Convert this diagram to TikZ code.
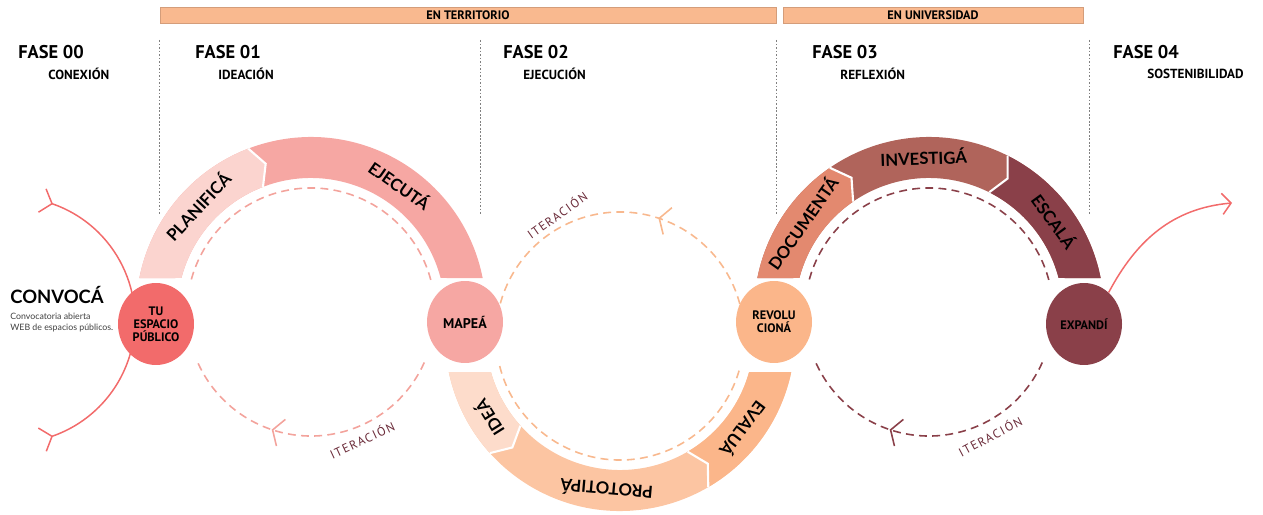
\documentclass[tikz,border=0pt]{standalone}
\usepackage{fontspec}
\setmainfont{PT Sans}
\newfontfamily\labelfont{Lato}
\usepackage{tikz}
\usetikzlibrary{arrows.meta,shapes.geometric,decorations.markings}

\definecolor{rojo}{HTML}{F26B6B}
\definecolor{planifica}{HTML}{FBD4CF}
\definecolor{ejecuta}{HTML}{F6A7A3}
\definecolor{idea}{HTML}{FDDCCB}
\definecolor{prototipa}{HTML}{FCC5A2}
\definecolor{evalua}{HTML}{FBB68A}
\definecolor{documenta}{HTML}{E3896F}
\definecolor{investiga}{HTML}{B0645B}
\definecolor{escala}{HTML}{8A4049}
\definecolor{barra}{HTML}{F9B98F}
\definecolor{granate}{HTML}{6A2A38}
\definecolor{salmon}{HTML}{F3A39C}
\definecolor{naranja}{HTML}{F8B88E}

\begin{document}
\begin{tikzpicture}[x=0.02cm, y=0.02cm,
    fase/.style={anchor=west, inner sep=0pt, font=\bfseries\fontsize{10.5}{12}\selectfont},
    sub/.style={anchor=west, inner sep=0pt, font=\bfseries\fontsize{7.5}{9}\selectfont},
    bar/.style={fill=barra, draw=barra!85!black, line width=0.3pt, minimum height=0.32cm, inner sep=0pt, font=\bfseries\fontsize{7}{8}\selectfont},
    sep/.style={gray, line width=0.4pt, dash pattern=on 1pt off 1pt},
    ringtext/.style={font=\labelfont\bfseries\fontsize{9.5}{10}\selectfont},
    stepnode/.style={ellipse, minimum width=1.52cm, minimum height=1.64cm, inner sep=0pt, align=center, font=\bfseries\fontsize{7}{7.5}\selectfont},
    iter/.style={line width=0.9pt, dash pattern=on 4.5pt off 3pt},
    itermark/.style={postaction={decorate, decoration={markings, mark=at position #1 with {\arrow{Straight Barb[length=5pt,width=16pt]}}}}},
    itertext/.style={text=granate, font=\fontsize{7}{8}\selectfont\addfontfeatures{LetterSpace=12}}
  ]
\useasboundingbox (0,0) rectangle (1263,514);

% barras superiores
\node[bar, minimum width=12.32cm] (territorio) at (468,499) {EN TERRITORIO};
\node[bar, minimum width=6cm] (universidad) at (933,499) {EN UNIVERSIDAD};

% separadores
\foreach \x in {159,480,776,1089}
  \draw[sep] (\x,474) -- (\x,299);

% fases
\node[fase] (fase0) at (18,462) {FASE 00};
\node[sub] (conexion) at (48,440) {CONEXIÓN};
\node[fase] (fase1) at (195,462) {FASE 01};
\node[sub] (ideacion) at (218,440) {IDEACIÓN};
\node[fase] (fase2) at (503,462) {FASE 02};
\node[sub] (ejecucion) at (523,440) {EJECUCIÓN};
\node[fase] (fase3) at (812,462) {FASE 03};
\node[sub] (reflexion) at (840,440) {REFLEXIÓN};
\node[fase] (fase4) at (1113,462) {FASE 04};
\node[sub] (sostenibilidad) at (1147,440) {SOSTENIBILIDAD};

% convoca
\node[anchor=west, inner sep=0pt, font=\labelfont\bfseries\fontsize{10.5}{12}\selectfont] (convoca) at (10,219) {CONVOCÁ};
\node[anchor=north west, inner sep=0pt, align=left, text=black!75, font=\labelfont\fontsize{5}{6}\selectfont] (convocatoria) at (10,201) {Convocatoria abierta\\WEB de espacios públicos.};

\begin{scope}[shift={(12,194)}]
  \draw[rojo, line width=0.85pt] (71:123) arc[start angle=71, end angle=-71, radius=123];
  \draw[rojo, line width=0.85pt] (71:123) ++(112:16) -- (71:123) -- ++(212:16);
  \draw[rojo, line width=0.85pt] (-71:123) ++(149:16) -- (-71:123) -- ++(249:16);
\end{scope}

% fase 01
\begin{scope}[shift={(311,202)}]
  \fill[ejecuta] (11.2:175) arc[start angle=11.2, end angle=168.8, radius=175] -- (165.3:134) arc[start angle=165.3, end angle=14.7, radius=134] -- cycle;
  \fill[planifica] (168.8:175) arc[start angle=168.8, end angle=111, radius=175] -- (107:155) -- (111:134) arc[start angle=111, end angle=165.3, radius=134] -- cycle;
  \draw[white, line width=1.2pt] (111:175) -- (107:155) -- (111:134);
  \node[ringtext, rotate=47] (planificatxt) at (137:155) {PLANIFICÁ};
  \node[ringtext, rotate=-35] (ejecutatxt) at (55:155) {EJECUTÁ};
  \draw[iter, salmon] (15:124) arc[start angle=15, end angle=165, radius=124];
  \draw[iter, salmon, itermark=0.64] (336:124) arc[start angle=336, end angle=204, radius=124];
\end{scope}

% fase 02
\begin{scope}[shift={(620,178)}]
  \fill[prototipa] (191.9:175) arc[start angle=191.9, end angle=348.1, radius=175] -- (344.4:134) arc[start angle=344.4, end angle=195.6, radius=134] -- cycle;
  \fill[idea] (191.9:175) arc[start angle=191.9, end angle=222, radius=175] -- (226:155) -- (222:134) arc[start angle=222, end angle=195.6, radius=134] -- cycle;
  \fill[evalua] (300.3:175) arc[start angle=300.3, end angle=348.1, radius=175] -- (344.4:134) arc[start angle=344.4, end angle=300.3, radius=134] -- (304.5:155) -- cycle;
  \draw[white, line width=1.2pt] (222:175) -- (226:155) -- (222:134);
  \draw[white, line width=1.2pt] (300.3:175) -- (304.5:155) -- (300.3:134);
  \node[ringtext, rotate=122] (ideatxt) at (212:155) {IDEÁ};
  \node[ringtext, rotate=175] (prototipatxt) at (265:155) {PROTOTIPÁ};
  \node[ringtext, rotate=233] (evaluatxt) at (323:155) {EVALUÁ};
  \draw[iter, naranja, itermark=0.38] (15:124) arc[start angle=15, end angle=165, radius=124];
  \draw[iter, naranja] (194:124) arc[start angle=194, end angle=346, radius=124];
\end{scope}

% fase 03
\begin{scope}[shift={(929,202)}]
  \fill[investiga] (11.2:175) arc[start angle=11.2, end angle=168.8, radius=175] -- (165.3:134) arc[start angle=165.3, end angle=14.7, radius=134] -- cycle;
  \fill[documenta] (168.8:175) arc[start angle=168.8, end angle=124.5, radius=175] -- (120:155) -- (124.5:134) arc[start angle=124.5, end angle=165.3, radius=134] -- cycle;
  \fill[escala] (63.3:175) arc[start angle=63.3, end angle=11.2, radius=175] -- (14.7:134) arc[start angle=14.7, end angle=63.3, radius=134] -- (59.5:155) -- cycle;
  \draw[white, line width=1.2pt] (124.5:175) -- (120:155) -- (124.5:134);
  \draw[white, line width=1.2pt] (63.3:175) -- (59.5:155) -- (63.3:134);
  \node[ringtext, rotate=55] (documentatxt) at (145:155) {DOCUMENTÁ};
  \node[ringtext, rotate=2] (investigatxt) at (92:155) {INVESTIGÁ};
  \node[ringtext, rotate=-54] (escalatxt) at (36:155) {ESCALÁ};
  \draw[iter, escala] (15:124) arc[start angle=15, end angle=165, radius=124];
  \draw[iter, escala, itermark=0.64] (336:124) arc[start angle=336, end angle=204, radius=124];
\end{scope}

% iteraciones
\node[itertext, rotate=25] (iter1) at (362,74) {ITERACIÓN};
\node[itertext, rotate=35] (iter2) at (557,299) {ITERACIÓN};
\node[itertext, rotate=28] (iter3) at (990,78) {ITERACIÓN};

% pasos
\node[stepnode, fill=rojo] (tu) at (156,190) {TU\\ESPACIO\\PÚBLICO};
\node[stepnode, fill=ejecuta, font=\bfseries\fontsize{8}{9}\selectfont] (mapea) at (465,192) {MAPEÁ};
\node[stepnode, fill=evalua] (revoluciona) at (774,192) {REVOLU\\CIONÁ};
\node[stepnode, fill=escala] (expandi) at (1084,190) {EXPANDÍ};

\coordinate (salida) at (1232,311);
\draw[rojo, line width=0.85pt, -{Straight Barb[length=5pt,width=12pt]}] (expandi.52) to[out=62, in=185] (salida);
\end{tikzpicture}
\end{document}
